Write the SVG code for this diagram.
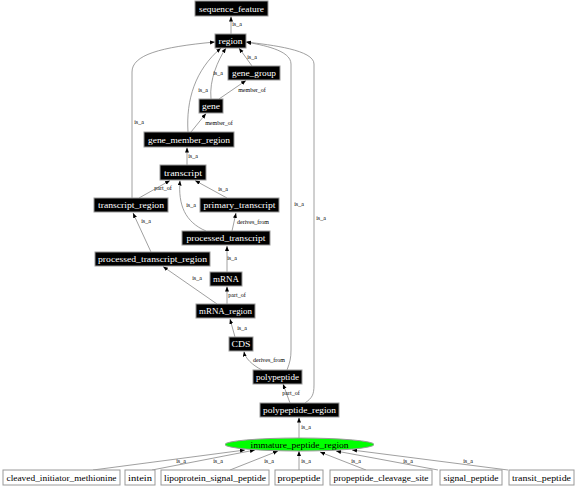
<svg xmlns="http://www.w3.org/2000/svg" width="576" height="487" viewBox="0 0 576 487">
<style>
.n rect{fill:#000;stroke:#999;stroke-width:1}
.n text{fill:#fff;font-family:"Liberation Serif",serif;font-size:8px;text-anchor:middle}
.w rect{fill:#fff;stroke:#999;stroke-width:1}
.w text{fill:#000;font-family:"Liberation Serif",serif;font-size:8px;text-anchor:middle}
.e path{fill:none;stroke:#888;stroke-width:0.8;marker-end:url(#a)}
.e text{fill:#000;font-family:"Liberation Serif",serif;font-size:6px;text-anchor:middle}
</style>
<defs>
<marker id="a" markerUnits="userSpaceOnUse" markerWidth="6" markerHeight="5" refX="5" refY="2" orient="auto">
<path d="M0,0 L5,2 L0,4 z" fill="#000"/>
</marker>
</defs>
<rect width="576" height="487" fill="#fff"/>
<g id="edges" class="e">
<path d="M231,34 L231,16.5"/><text x="237" y="26">is_a</text>
<path d="M252,66 L239,48"/><text x="252" y="59">is_a</text>
<path d="M211,99 C209,80 218,60 226,48"/><text x="218" y="75">is_a</text>
<path d="M188,132 C186,100 195,70 221,48"/><text x="203" y="92">is_a</text>
<path d="M219,99 L246,80.5"/><text x="252" y="92">member_of</text>
<path d="M191,132 L206,113.5"/><text x="219" y="125">member_of</text>
<path d="M187,165 L187,147.5"/><text x="193" y="158">is_a</text>
<path d="M132,198 L132,72 C132,55 160,47 215,42"/><text x="139" y="124">is_a</text>
<path d="M139,198 L170,180.5"/><text x="163" y="190">part_of</text>
<path d="M227,198 L195,180.5"/><text x="223" y="191">is_a</text>
<path d="M206,231 C185,222 178,205 180,180.5"/><text x="191" y="207">is_a</text>
<path d="M232,231 L236,213"/><text x="253" y="224">derives_from</text>
<path d="M151,252 L133,213"/><text x="146" y="223">is_a</text>
<path d="M227,272 L227,246"/><text x="232" y="260">is_a</text>
<path d="M217,304 L163,266.5"/><text x="197" y="280">is_a</text>
<path d="M227,304 L227,286.5"/><text x="237" y="297">part_of</text>
<path d="M235,337 L230,319"/><text x="242" y="330">is_a</text>
<path d="M262,370 C252,365 245,358 244,351.5"/><text x="269" y="362">derives_from</text>
<path d="M287,370 C290,362 291,358 291,350 L291,64 C291,50 262,45 246,42"/><text x="299" y="206">is_a</text>
<path d="M305,403 C312,398 314,395 314,385 L314,64 C314,50 272,45 246,42"/><text x="321" y="220">is_a</text>
<path d="M290,403 L283,384"/><text x="291" y="395">part_of</text>
<path d="M299,438 L299,417.5"/><text x="306" y="429">is_a</text>
<path d="M93,470 L245,450"/><text x="181" y="463">is_a</text>
<path d="M152,470 L255,450"/><text x="218" y="463">is_a</text>
<path d="M230,470 L278,451"/><text x="269" y="463">is_a</text>
<path d="M299,470 L299,451"/><text x="306" y="463">is_a</text>
<path d="M366,470 L320,452"/><text x="356" y="463">is_a</text>
<path d="M438,470 L336,451"/><text x="408" y="463">is_a</text>
<path d="M508,470 L352,450"/><text x="468" y="463">is_a</text>
</g>
<g id="sequence_feature" class="n"><rect x="195" y="1" width="73" height="15"/><text x="231.5" y="11.5" textLength="65" lengthAdjust="spacingAndGlyphs">sequence_feature</text></g>
<g id="region" class="n"><rect x="215" y="34" width="31" height="14"/><text x="230.5" y="44" textLength="24" lengthAdjust="spacingAndGlyphs">region</text></g>
<g id="gene_group" class="n"><rect x="228" y="66" width="52" height="14"/><text x="254" y="76" textLength="44" lengthAdjust="spacingAndGlyphs">gene_group</text></g>
<g id="gene" class="n"><rect x="199" y="99" width="24" height="14"/><text x="211" y="109" textLength="18" lengthAdjust="spacingAndGlyphs">gene</text></g>
<g id="gene_member_region" class="n"><rect x="144" y="132" width="90" height="15"/><text x="189" y="142.5" textLength="82" lengthAdjust="spacingAndGlyphs">gene_member_region</text></g>
<g id="transcript" class="n"><rect x="160" y="165" width="46" height="15"/><text x="183" y="175.5" textLength="38" lengthAdjust="spacingAndGlyphs">transcript</text></g>
<g id="transcript_region" class="n"><rect x="94" y="198" width="74" height="14"/><text x="131" y="208" textLength="66" lengthAdjust="spacingAndGlyphs">transcript_region</text></g>
<g id="primary_transcript" class="n"><rect x="200" y="198" width="79" height="14"/><text x="239.5" y="208" textLength="72" lengthAdjust="spacingAndGlyphs">primary_transcript</text></g>
<g id="processed_transcript" class="n"><rect x="182" y="231" width="88" height="14"/><text x="226" y="241" textLength="79" lengthAdjust="spacingAndGlyphs">processed_transcript</text></g>
<g id="processed_transcript_region" class="n"><rect x="95" y="252" width="115" height="14"/><text x="152.5" y="262" textLength="109" lengthAdjust="spacingAndGlyphs">processed_transcript_region</text></g>
<g id="mRNA" class="n"><rect x="210" y="272" width="32" height="14"/><text x="226" y="282" textLength="26" lengthAdjust="spacingAndGlyphs">mRNA</text></g>
<g id="mRNA_region" class="n"><rect x="196" y="304" width="59" height="14"/><text x="225.5" y="314" textLength="53" lengthAdjust="spacingAndGlyphs">mRNA_region</text></g>
<g id="CDS" class="n"><rect x="229" y="337" width="24" height="14"/><text x="241" y="347" textLength="19" lengthAdjust="spacingAndGlyphs">CDS</text></g>
<g id="polypeptide" class="n"><rect x="253" y="370" width="49" height="14"/><text x="277.5" y="380" textLength="43" lengthAdjust="spacingAndGlyphs">polypeptide</text></g>
<g id="polypeptide_region" class="n"><rect x="260" y="403" width="79" height="14"/><text x="299.5" y="413" textLength="73" lengthAdjust="spacingAndGlyphs">polypeptide_region</text></g>
<g id="immature_peptide_region"><ellipse cx="299.5" cy="444.5" rx="74.5" ry="6.5" fill="#00ff00" stroke="#999" stroke-width="1"/><text x="299.5" y="447.5" font-family="Liberation Serif, serif" font-size="8" text-anchor="middle" textLength="98" lengthAdjust="spacingAndGlyphs">immature_peptide_region</text></g>
<g id="cleaved_initiator_methionine" class="w"><rect x="3" y="470" width="117" height="15"/><text x="61.5" y="480.5" textLength="110" lengthAdjust="spacingAndGlyphs">cleaved_initiator_methionine</text></g>
<g id="intein" class="w"><rect x="125" y="470" width="30" height="15"/><text x="140" y="480.5" textLength="24" lengthAdjust="spacingAndGlyphs">intein</text></g>
<g id="lipoprotein_signal_peptide" class="w"><rect x="161" y="470" width="108" height="15"/><text x="215" y="480.5" textLength="102" lengthAdjust="spacingAndGlyphs">lipoprotein_signal_peptide</text></g>
<g id="propeptide" class="w"><rect x="275" y="470" width="48" height="15"/><text x="299" y="480.5" textLength="43" lengthAdjust="spacingAndGlyphs">propeptide</text></g>
<g id="propeptide_cleavage_site" class="w"><rect x="330" y="470" width="102" height="15"/><text x="381" y="480.5" textLength="95" lengthAdjust="spacingAndGlyphs">propeptide_cleavage_site</text></g>
<g id="signal_peptide" class="w"><rect x="440" y="470" width="62" height="15"/><text x="471" y="480.5" textLength="55" lengthAdjust="spacingAndGlyphs">signal_peptide</text></g>
<g id="transit_peptide" class="w"><rect x="509" y="470" width="65" height="15"/><text x="541.5" y="480.5" textLength="59" lengthAdjust="spacingAndGlyphs">transit_peptide</text></g>
</svg>
